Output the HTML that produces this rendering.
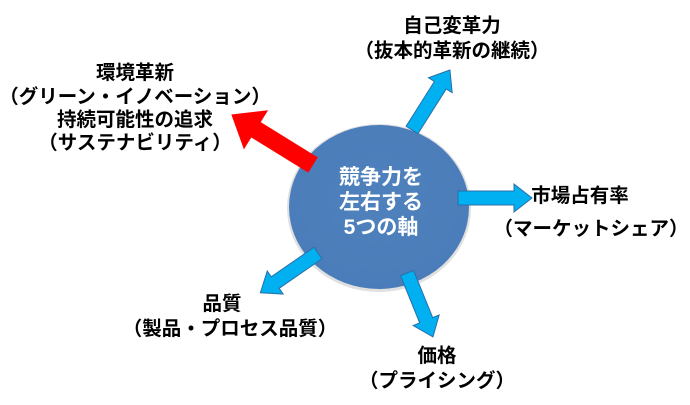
<!DOCTYPE html>
<html><head><meta charset="utf-8"><style>
html,body{margin:0;padding:0;background:#fff;}
svg text{font-family:"Liberation Sans","Noto Sans CJK JP",sans-serif;font-weight:bold;}
</style></head><body>
<svg width="690" height="400" viewBox="0 0 690 400" xmlns="http://www.w3.org/2000/svg">
<defs>
<radialGradient id="g" cx="50%" cy="45%" r="60%"><stop offset="0" stop-color="#4f81bd"/><stop offset="1" stop-color="#4a7cb9"/></radialGradient>
</defs>
<ellipse cx="379" cy="208" rx="92" ry="84" fill="#e0e0e0"/>
<ellipse cx="379" cy="207" rx="90" ry="82" fill="url(#g)"/>
<g transform="translate(313,165) rotate(211.7)">
<polygon points="0,-9 67,-9 67,-23 96,0 67,23 67,9 0,9" fill="#ff0000"/>
</g>
<g fill="#00b0f0" stroke="#2a6fa8" stroke-width="1">
<g transform="translate(412,130) rotate(-57.7)"><polygon points="0,-7 53,-7 53,-14 71,0 53,14 53,7 0,7"/></g>
<g transform="translate(458,198) rotate(0)"><polygon points="0,-7 56,-7 56,-14 74,0 56,14 56,7 0,7"/></g>
<g transform="translate(318,253) rotate(145.4)"><polygon points="0,-7 52,-7 52,-14 70,0 52,14 52,7 0,7"/></g>
<g transform="translate(407,273) rotate(67.9)"><polygon points="0,-7 51,-7 51,-14 69,0 51,14 51,7 0,7"/></g>
</g>
<g fill="#fff" font-size="21" text-anchor="middle">
<text x="381" y="184">競争力を</text>
<text x="381" y="209">左右する</text>
<text x="381" y="234">5つの軸</text>
</g>
<g fill="#000" font-size="19.5" text-anchor="middle">
<text x="452" y="32">自己変革力</text>
<text x="452" y="57">（抜本的革新の継続）</text>
<text x="135" y="79">環境革新</text>
<text x="135" y="103">（グリーン・イノベーション）</text>
<text x="135" y="126">持続可能性の追求</text>
<text x="135" y="149">（サステナビリティ）</text>
<text x="580" y="202">市場占有率</text>
<text x="591" y="235">（マーケットシェア）</text>
<text x="222" y="310">品質</text>
<text x="230" y="335">（製品・プロセス品質）</text>
<text x="437" y="362">価格</text>
<text x="437" y="387">（プライシング）</text>
</g>
</svg>
</body></html>
